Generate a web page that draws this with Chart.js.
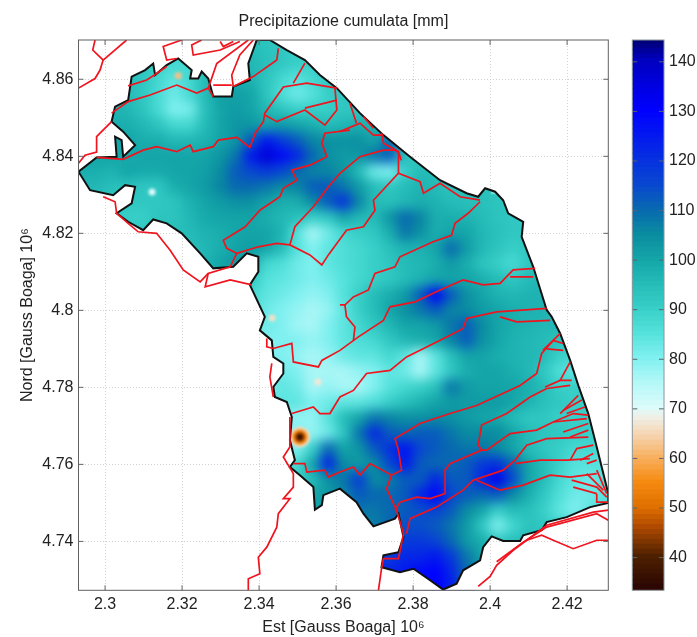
<!DOCTYPE html>
<html>
<head>
<meta charset="utf-8">
<title>Precipitazione cumulata</title>
<script src="https://cdn.jsdelivr.net/npm/chart.js@4/dist/chart.umd.min.js"></script>
<style>
  body { margin: 0; background: #fff; }
  #wrap { position: relative; width: 697px; height: 637px; }
  #map { position: absolute; left: 0; top: 0; }
  #bar { position: absolute; left: 620px; top: 0; }
</style>
</head>
<body>
<div id="wrap">
  <canvas id="map" width="697" height="637"></canvas>
  <canvas id="bar" width="77" height="637"></canvas>
</div>
<script>
// all map coordinates are Gauss Boaga km
const xTicks = [2300, 2320, 2340, 2360, 2380, 2400, 2420];
const xTickLabels = ['2.3', '2.32', '2.34', '2.36', '2.38', '2.4', '2.42'];
const yTicks = [4740, 4760, 4780, 4800, 4820, 4840, 4860];
const yTickLabels = ['4.74', '4.76', '4.78', '4.8', '4.82', '4.84', '4.86'];
const barTicks = [40, 50, 60, 70, 80, 90, 100, 110, 120, 130, 140];

// rain field, cell centres
const cellX = [2294, 2298, 2302, 2306, 2310, 2314, 2318, 2322, 2326, 2330, 2334, 2338, 2342, 2346, 2350, 2354, 2358, 2362, 2366, 2370, 2374, 2378, 2382, 2386, 2390, 2394, 2398, 2402, 2406, 2410, 2414, 2418, 2422, 2426, 2430];
const cellY = [4868, 4864, 4860, 4856, 4852, 4848, 4844, 4840, 4836, 4832, 4828, 4824, 4820, 4816, 4812, 4808, 4804, 4800, 4796, 4792, 4788, 4784, 4780, 4776, 4772, 4768, 4764, 4760, 4756, 4752, 4748, 4744, 4740, 4736, 4732, 4728];
// first column of each row
const rainStart = [10, 3, 2, 1, 1, 0, 0, 0, 0, 0, 1, 2, 3, 6, 8, 10, 11, 11, 12, 12, 12, 12, 12, 13, 13, 13, 13, 13, 14, 15, 15, 16, 18, 19, 19, 20];
const rainRows = [
  [95,95,93,92,90,92,92,92],
  [95,93,90,88,88,92,95,96,96,94,92,90,90,92,92,92],
  [95,95,92,88,84,88,95,100,98,97,93,88,85,88,92,92,92,93],
  [97,96,95,92,87,82,87,95,101,101,100,93,86,82,85,90,92,93,95,95],
  [97,97,96,93,87,80,81,94,100,102,100,96,93,90,90,90,92,92,93,94,95],
  [100,100,98,98,96,93,88,88,95,100,103,103,100,102,100,98,95,96,98,97,95,96,96],
  [100,100,100,100,98,98,96,96,97,100,103,112,125,118,112,106,104,104,104,100,110,96,95,95],
  [100,100,100,99,100,100,100,100,100,103,108,125,136,128,122,110,104,102,103,108,112,94,92,95,96],
  [98,98,97,100,99,99,100,100,101,105,112,115,118,115,110,106,106,103,95,82,80,90,95,95,95,95],
  [96,96,94,94,92,92,98,100,102,106,110,110,108,105,106,112,112,108,102,95,92,95,97,95,93,94,94],
  [93,93,92,92,92,93,97,100,102,104,104,100,98,98,105,112,120,106,95,94,96,98,97,95,94,94,93,93],
  [92,90,90,93,93,96,99,100,100,100,98,96,94,90,92,100,96,95,103,110,106,98,98,97,95,93,92,92],
  [92,92,93,94,95,97,98,100,100,100,97,85,76,82,88,90,92,98,108,104,98,100,100,96,94,92,92],
  [94,94,96,98,100,102,100,95,85,80,84,86,88,90,94,97,97,100,110,102,96,93,90,92],
  [97,100,103,100,88,86,82,80,84,86,88,90,92,95,96,98,102,98,93,90,87,92,94],
  [95,92,85,84,82,80,82,85,88,90,92,95,97,100,100,100,98,95,92,95,97,97],
  [88,84,82,80,78,80,85,90,95,98,102,112,130,112,104,100,97,96,97,97,96],
  [88,82,80,78,76,78,84,90,95,100,104,108,112,106,105,102,100,98,97,97,95],
  [82,80,77,76,80,84,88,92,96,100,100,102,108,112,105,100,98,97,96,96,94],
  [80,80,80,78,80,84,86,88,92,96,98,100,106,112,104,100,97,96,95,93,92],
  [80,80,78,76,78,82,84,84,88,84,76,84,94,100,100,98,97,96,95,90,88],
  [80,82,80,76,76,76,78,80,84,82,76,84,92,98,100,100,98,96,92,86,84],
  [80,84,82,76,78,76,76,80,85,88,90,94,108,102,100,100,100,98,95,90,90,92],
  [84,84,80,82,84,84,86,90,94,97,100,102,102,102,102,100,97,94,92,90,90],
  [80,78,78,85,95,100,108,106,104,104,105,104,102,100,99,95,92,92,90,90,90],
  [80,80,78,82,92,108,122,112,110,112,112,108,105,105,105,100,95,93,92,90,90],
  [80,80,90,110,100,103,112,120,126,115,112,110,108,108,105,100,95,92,90,88,88],
  [85,88,100,124,105,102,105,115,125,112,110,110,112,118,120,110,100,95,90,85,85,85],
  [90,95,104,108,118,105,107,112,112,122,112,112,122,132,115,100,95,88,84,82,86],
  [100,102,106,112,110,110,112,122,130,115,112,110,112,105,98,92,86,82,82,85],
  [100,102,104,108,108,110,112,114,116,112,105,100,90,95,94,90,84,80,84,88],
  [103,104,105,107,110,114,114,112,108,102,92,80,88,93,92,90,88,90],
  [105,108,112,118,118,116,110,102,98,92,94,96,96,96],
  [118,118,122,122,125,118,108,100,100,100],
  [122,122,125,128,130,122,110,105],
  [120,126,128,130,124,110]
];

// the dry gauge on the western border
const dryX = [2350.6, 2350.6, 2350.6, 2350.6, 2350.6, 2350.6];
const dryY = [4767.1, 4767.1, 4767.1, 4767.1, 4767.1, 4767.1];
const dryRain = [66, 58, 50, 44, 38, 34];

// single gauges, smaller than a cell
const spotX = [2312.2, 2319, 2343.4, 2355.3];
const spotY = [4830.7, 4860.9, 4798, 4781.4];
const spotRain = [70, 62, 66, 67];

const coast = [
  [2342.8,4870.2],[2347.2,4867.6],[2351.9,4865],[2355.8,4861.1],[2360.2,4857.7],[2366.2,4851.2],[2372.3,4845.5],[2379.2,4839.9],
  [2387,4833.8],[2393.9,4830.4],[2396.9,4829.5],[2398.7,4831.7],[2401.3,4830.8],[2403.4,4828.6],[2404.7,4825.2],[2408.6,4823],
  [2408.2,4819.1],[2411.2,4811.3],[2414.7,4800.1],[2416,4798.3],[2418.2,4794],[2420.8,4787],[2422.9,4780.5],[2425.5,4773.2],
  [2427.7,4764.5],[2430.7,4752.4],[2430.7,4750],[2426,4748.9],[2419.9,4746.3],[2414.7,4745],[2413.4,4742.9],[2408.6,4741.6],
  [2407.8,4740.1],[2403.4,4740.1],[2400.4,4741.3],[2398.2,4738.5],[2397.4,4735.1],[2393,4732.5],[2391.3,4729],[2387.8,4727.5],
  [2384.4,4729.9],[2380.1,4732.9],[2376.6,4732],[2371.8,4733.3],[2372.3,4736.4],[2376.2,4737.2],[2377.5,4741.1],[2376.2,4747.2],
  [2375.3,4745.9],[2369.7,4743.9],[2367.1,4747.2],[2365.3,4750.2],[2361,4753.7],[2356.7,4752],[2356.3,4749.4],[2354.5,4748.2],
  [2354.1,4754.1],[2350.6,4757.2],[2348,4759.3],[2349.3,4761.1],[2348,4766.3],[2348.5,4772.3],[2347.2,4776.2],[2344.1,4777.5],
  [2343.7,4780.1],[2346.3,4783.6],[2346.3,4786.2],[2343.7,4787.9],[2343.3,4792.2],[2340.2,4794.8],[2341.5,4798.3],[2337.6,4806.6],
  [2339.8,4810],[2339.8,4813.9],[2336.8,4814.8],[2333.3,4811.3],[2328.1,4810.9],[2324.7,4814.8],[2319.9,4820],[2316,4822.6],
  [2312.5,4823.6],[2309.9,4820.8],[2306,4823],[2303,4825.2],[2306.9,4827.8],[2307.8,4832.1],[2305.2,4832.5],[2302.1,4829.9],
  [2296.1,4831.2],[2293.1,4836],[2297.8,4839.7],[2303,4839.9],[2302.6,4845.1],[2304.3,4844.2],[2304.7,4839.9],[2307.8,4842.9],
  [2304.7,4846.4],[2301.7,4849],[2302.6,4852.9],[2306,4854.6],[2306.9,4860.7],[2310.4,4862.4],[2312.5,4864.1],[2313,4861.1],
  [2316,4863.7],[2319,4865.4],[2322.5,4862.4],[2322.1,4860.2],[2324.2,4860.2],[2325.1,4862],[2326.8,4860.2],[2328.1,4855.5],
  [2332.9,4855.5],[2333.3,4858.1],[2337.6,4859.8],[2337.2,4864.1],[2339.4,4870.2],[2342.8,4870.2]
];

const basins = [
  [[2297.4,4870.2],[2296.8,4867.6],[2299.5,4865],[2298.7,4862.4],[2297.4,4860.2],[2293.1,4857.7]],
  [[2305.6,4870.2],[2299.5,4865]],
  [[2293.1,4838.2],[2294.8,4840.3],[2297.8,4841.1],[2297.8,4845.1],[2298.7,4846],[2301.7,4849]],
  [[2301.7,4851.2],[2306,4854.2],[2311.7,4855.9],[2318.6,4858.5],[2323.8,4856.4],[2326.8,4857.7],[2328.1,4855.5]],
  [[2306,4858.3],[2310.8,4859.8],[2313.4,4861.5],[2316,4863.3]],
  [[2297.8,4839.7],[2304.7,4839.2],[2309.9,4841.6],[2313.4,4842.5],[2318.6,4841.2],[2322.1,4842.9],[2322.9,4841.2],[2328.1,4842.5],[2329.4,4844.2],[2334.2,4844.9],[2337.6,4842.3],[2339,4846],[2341.1,4849],[2341.5,4851.2],[2346.3,4858],[2352.4,4859],[2360.2,4857.7]],
  [[2341.5,4850.7],[2344.6,4849],[2351.9,4852],[2357.1,4848.1],[2360.2,4852],[2359.7,4857.7]],
  [[2351.9,4852.5],[2360.2,4854.6]],
  [[2345,4868],[2344.6,4865],[2338.5,4860.7],[2333.3,4858.1]],
  [[2351.9,4864.2],[2348.9,4859]],
  [[2338.5,4870.2],[2335,4866.3],[2332.9,4861.1],[2333.3,4858.1]],
  [[2337.2,4870.2],[2329,4864.1],[2326.8,4857.7]],
  [[2335,4869.8],[2329.9,4867.6],[2322.9,4866.3],[2322.5,4868.9],[2325.1,4870.2]],
  [[2319.9,4870.2],[2315.1,4868.5],[2316,4865],[2318.6,4865.4]],
  [[2328.1,4858.5],[2332.9,4858.5]],
  [[2329.9,4869.8],[2330.7,4868.5],[2333.3,4869.8]],
  [[2361,4846.4],[2366.2,4848.6],[2369.7,4845.5],[2372.3,4845.5]],
  [[2363.6,4846.8],[2357.1,4846],[2356.3,4843.4],[2357.6,4839.9],[2353.2,4837.7],[2348.5,4836.4],[2349.8,4833.8],[2346.3,4831.7],[2345.4,4829.5],[2340.2,4826],[2336.4,4821.7],[2330.7,4818.2],[2331.6,4816.1],[2334.2,4814.8],[2332.5,4811.3],[2326.8,4809.6],[2326,4806.1],[2332.5,4807.9],[2338.1,4806.6]],
  [[2326.8,4809.6],[2324.7,4807.4],[2320.3,4810.5],[2316.9,4815.6],[2313.4,4820],[2308.6,4820.4],[2306,4822.6],[2303,4825.2],[2302.6,4828.2],[2299.5,4829.5]],
  [[2397.4,4828.6],[2392.2,4829.5],[2387,4833],[2382.7,4830.4],[2381.8,4833.4],[2376.2,4835.6],[2369.7,4828.6],[2370.1,4826],[2367.1,4821.7],[2362.7,4820.8],[2358,4814.4],[2356.3,4811.8],[2353.2,4814.4],[2348,4817],[2344.6,4817.4],[2339.8,4816.5],[2334.2,4814.8]],
  [[2348,4817],[2349.3,4821.7],[2354.1,4826.9],[2358,4832.1],[2361,4835.6],[2366.2,4839.9],[2372.3,4841.6],[2375.3,4841.6],[2376.2,4840.8],[2376.2,4835.6]],
  [[2371.8,4846],[2372.3,4843.4],[2376.2,4841.2],[2376.9,4839]],
  [[2363.6,4853.8],[2365.3,4848.6]],
  [[2367.1,4850.3],[2369.7,4847.3]],
  [[2397.4,4828.2],[2394.3,4825.2],[2390.9,4822.6],[2390,4819.5],[2385.2,4817.8],[2376.6,4813.9],[2375.3,4811.3],[2370.1,4809.6],[2368.4,4805.3],[2364.5,4803.5],[2362.3,4801.4],[2362.7,4798.3],[2364.9,4795.7],[2364.5,4792.2]],
  [[2361,4801.4],[2362.3,4801.4]],
  [[2342,4792.7],[2342,4790.5],[2343.7,4790.1],[2348.5,4791.4],[2348.9,4786.6],[2355.4,4785.3],[2356.3,4787],[2361,4789.6],[2365.8,4793.1],[2372.3,4797.4],[2374,4800.9],[2380.5,4802.2],[2387,4805.3],[2393,4807.9],[2398.2,4806.6],[2402.6,4807],[2406,4810.5],[2411.7,4810.9]],
  [[2405.2,4808.7],[2411.2,4808.7]],
  [[2343.3,4786.2],[2342.8,4782.7],[2343.7,4777.5]],
  [[2348.5,4773.2],[2354.1,4774.9],[2355.8,4773.2],[2358.4,4773.2],[2361,4777.5],[2364.5,4779.2],[2367.9,4783.6],[2374,4784.4],[2378.3,4787.9],[2383.5,4790.5],[2388.7,4793.1],[2393,4795.3],[2393.9,4797.9],[2401.7,4799.6],[2414.7,4800.5]],
  [[2402.6,4798.3],[2406.9,4797],[2415.6,4797.4]],
  [[2419,4791.4],[2416.4,4792.2],[2413.4,4788.8],[2412.1,4783.6],[2407.8,4780.5],[2396.5,4775.3],[2389.6,4773.2],[2381.8,4770.6],[2375.3,4766.7],[2376.2,4763.7],[2377,4758.5],[2374.4,4757.2],[2368.8,4760.2],[2366.2,4757.2],[2364.5,4759.3],[2361,4758],[2358,4756.7],[2357.1,4758.5],[2352.4,4758],[2351.9,4760.2],[2348.9,4760.2]],
  [[2374.4,4757.2],[2373.1,4753.7],[2375.7,4748.1],[2377.5,4742],[2376.2,4735.5],[2372.3,4735.5],[2371.8,4732.9],[2371,4727.3]],
  [[2348,4772.3],[2348,4764.5],[2346.3,4761.9],[2348.9,4757.6],[2348.9,4754.1],[2346.3,4751.1],[2348,4751.1],[2345,4747.2],[2344.6,4743.7],[2342,4738.5],[2339.8,4735.9],[2340.2,4731.6],[2337.2,4730.3],[2337.2,4727.3]],
  [[2420.8,4780.5],[2414.7,4779.7],[2410.4,4777.5],[2404.3,4773.2],[2397.8,4770.2],[2396.9,4765],[2397.8,4763.7],[2389.6,4760.2],[2388.3,4758.5],[2388.3,4752.4],[2384.4,4751.1],[2380.9,4751.5],[2376.6,4750.2],[2375.3,4748.1]],
  [[2425.1,4771.9],[2416.4,4771],[2412.1,4768.9],[2405.2,4768],[2399.1,4763.7],[2397.8,4763.7]],
  [[2425.5,4767.1],[2414.7,4766.7],[2409.5,4765],[2406.5,4761.1],[2403.4,4758.5],[2395.6,4755.9],[2393,4753.3],[2386.1,4748.9],[2379.2,4745.9],[2378.3,4742]],
  [[2425.9,4761.5],[2419.9,4761.1],[2413,4761.1],[2406.5,4760.2]],
  [[2427.7,4757.6],[2420.8,4756.7],[2415.6,4757.2],[2408.6,4754.6],[2402.6,4753.3],[2396.5,4755.9]],
  [[2413.7,4789.6],[2417.3,4793.1],[2418.2,4794]],
  [[2414.7,4790],[2419,4789.6]],
  [[2418.2,4781.8],[2420.8,4786.6]],
  [[2414.3,4780.1],[2418.2,4781.8],[2421.2,4781.8]],
  [[2418.2,4773.2],[2422.9,4777.9]],
  [[2419,4774],[2423.8,4776.7]],
  [[2419.9,4773.2],[2424.6,4774.9]],
  [[2416.4,4771],[2421.6,4773.2],[2425.5,4772.8]],
  [[2419,4768.4],[2425.5,4770.6]],
  [[2420.8,4767.1],[2425.5,4768.9]],
  [[2420.8,4761.1],[2422.5,4764.1],[2426.8,4765]],
  [[2423.4,4761.1],[2426.8,4762.8]],
  [[2425.1,4760.2],[2427.7,4761.1]],
  [[2421.2,4755.9],[2427.7,4754.1],[2430.3,4751.5]],
  [[2421.6,4754.1],[2427.7,4752.4]],
  [[2427.7,4758.5],[2430.3,4752.4]],
  [[2425.1,4757.6],[2429.4,4753.3]],
  [[2427.7,4752.4],[2427.7,4750.2],[2430.7,4750.2]],
  [[2430.7,4748.1],[2426.8,4747.6],[2414.7,4744.2],[2409.5,4740.3],[2406,4737.7],[2401.7,4733.8],[2400,4730.9],[2396.9,4728.3]],
  [[2430.7,4745.5],[2427.7,4747.2],[2414.7,4743.7],[2408.6,4739.8],[2401.7,4734.7]],
  [[2430.7,4740.3],[2427.7,4740.3],[2421.6,4738.1],[2416.4,4740.3],[2413.4,4741.6],[2409.5,4740.3]]
];

// colour map
const mapValues = [33.4, 40, 46, 50, 55, 60, 64, 68, 70, 75, 80, 85, 90, 95, 100, 105, 110, 115, 120, 130, 140, 144.4];
const mapColors = ['#2a0503', '#4d2000', '#b04a00', '#e07000', '#f58a10', '#f8b060', '#f5d0a8', '#f0efe5', '#dcfbfb', '#b5f8f8', '#80f0f0', '#55e2dc', '#38cfc8', '#25bcb8', '#14a5a8', '#0a8ca0', '#0868b0', '#0848d0', '#0630e0', '#0000ff', '#0000c0', '#000070'];
const barLevels = [34, 35, 36, 37, 38, 39, 40, 41, 42, 43, 44, 45, 46, 47, 48, 49, 50, 51, 52, 53, 54, 55, 56, 57, 58, 59, 60, 61, 62, 63, 64, 65, 66, 67, 68, 69, 70, 71, 72, 73, 74, 75, 76, 77, 78, 79, 80, 81, 82, 83, 84, 85, 86, 87, 88, 89, 90, 91, 92, 93, 94, 95, 96, 97, 98, 99, 100, 101, 102, 103, 104, 105, 106, 107, 108, 109, 110, 111, 112, 113, 114, 115, 116, 117, 118, 119, 120, 121, 122, 123, 124, 125, 126, 127, 128, 129, 130, 131, 132, 133, 134, 135, 136, 137, 138, 139, 140, 141, 142, 143, 144];

function rainColor(v) {
  let i = 0;
  while (i < mapValues.length - 2 && v > mapValues[i + 1]) i++;
  const t = Math.min(1, Math.max(0, (v - mapValues[i]) / (mapValues[i + 1] - mapValues[i])));
  const a = mapColors[i], b = mapColors[i + 1];
  const c = [1, 3, 5].map(k => {
    const p = parseInt(a.substr(k, 2), 16), q = parseInt(b.substr(k, 2), 16);
    return Math.round(p + (q - p) * t);
  });
  return 'rgb(' + c.join(',') + ')';
}

const textFont = { family: '"Liberation Sans", Arial, sans-serif', size: 16 };
const textColor = '#222';

const cells = [];
rainRows.forEach((row, j) => {
  row.forEach((v, i) => cells.push({ x: cellX[rainStart[j] + i], y: cellY[j], v: v }));
});

function tracePolygon(chart) {
  const ctx = chart.ctx, sx = chart.scales.x, sy = chart.scales.y;
  ctx.beginPath();
  coast.forEach((p, i) => {
    const px = sx.getPixelForValue(p[0]), py = sy.getPixelForValue(p[1]);
    if (i === 0) ctx.moveTo(px, py); else ctx.lineTo(px, py);
  });
  ctx.closePath();
}

function copyCanvas(canvas) {
  const c = document.createElement('canvas');
  c.width = canvas.width;
  c.height = canvas.height;
  c.getContext('2d').drawImage(canvas, 0, 0);
  return c;
}

// rain cells are drawn by the chart, then smoothed and cut to the region outline
let underLayer = null;
const rainLayer = {
  id: 'rainLayer',
  beforeDatasetDraw(chart, args) {
    const ctx = chart.ctx, label = args.meta.label;
    if (label === 'rain') underLayer = copyCanvas(chart.canvas);
    if (label === 'dry' || label === 'spots') {
      ctx.save();
      tracePolygon(chart);
      ctx.clip();
      ctx.filter = 'blur(1.5px)';
    }
  },
  afterDatasetDraw(chart, args) {
    const ctx = chart.ctx, a = chart.chartArea, label = args.meta.label;
    if (label === 'dry' || label === 'spots') ctx.restore();
    if (label !== 'rain') return;
    const cellLayer = copyCanvas(chart.canvas);
    ctx.save();
    ctx.beginPath();
    ctx.rect(a.left, a.top, a.width, a.height);
    ctx.clip();
    ctx.clearRect(a.left, a.top, a.width, a.height);
    ctx.drawImage(underLayer, 0, 0);
    ctx.restore();
    ctx.save();
    tracePolygon(chart);
    ctx.clip();
    ctx.drawImage(cellLayer, 0, 0);
    ctx.filter = 'blur(6px)';
    ctx.drawImage(cellLayer, 0, 0);
    ctx.restore();
  }
};

// inward ticks and frame
const frameTicks = {
  id: 'frameTicks',
  afterDraw(chart) {
    const ctx = chart.ctx, a = chart.chartArea;
    const isBar = chart.canvas.id === 'bar';
    ctx.save();
    ctx.strokeStyle = isBar ? '#5a6468' : '#666';
    ctx.lineWidth = 1;
    Object.values(chart.scales).forEach(s => {
      if (s.options.display === false) return;
      s.ticks.forEach(t => {
        const p = s.getPixelForValue(t.value);
        ctx.beginPath();
        if (s.isHorizontal()) {
          ctx.moveTo(p, a.bottom); ctx.lineTo(p, a.bottom - 5);
          ctx.moveTo(p, a.top); ctx.lineTo(p, a.top + 5);
        } else {
          ctx.moveTo(a.left, p); ctx.lineTo(a.left + 5, p);
          ctx.moveTo(a.right, p); ctx.lineTo(a.right - 5, p);
        }
        ctx.stroke();
      });
    });
    ctx.strokeStyle = isBar ? '#8a969c' : '#606060';
    ctx.strokeRect(a.left, a.top, a.width, a.height);
    ctx.restore();
  }
};

const mapDatasets = [];
basins.forEach((line, i) => {
  mapDatasets.push({
    label: 'basin ' + i,
    data: line.map(p => ({ x: p[0], y: p[1] })),
    showLine: true,
    borderColor: '#f0141e',
    borderWidth: 1.7,
    pointRadius: 0,
    order: 1
  });
});
mapDatasets.push({
  label: 'coast',
  data: coast.map(p => ({ x: p[0], y: p[1] })),
  showLine: true,
  borderColor: '#111',
  borderWidth: 2,
  pointRadius: 0,
  order: 2
});
mapDatasets.push({
  label: 'dry',
  data: dryRain.map((v, i) => ({ x: dryX[i], y: dryY[i], v: v })),
  showLine: false,
  pointStyle: 'circle',
  pointRadius: ctx => (ctx.raw.v - 28) * 0.27,
  backgroundColor: dryRain.map(rainColor),
  borderWidth: 0,
  order: 3
});
mapDatasets.push({
  label: 'spots',
  data: spotRain.map((v, i) => ({ x: spotX[i], y: spotY[i], v: v })),
  showLine: false,
  pointStyle: 'circle',
  pointRadius: 3.5,
  backgroundColor: spotRain.map(rainColor),
  borderWidth: 0,
  order: 3
});
mapDatasets.push({
  label: 'rain',
  data: cells,
  showLine: false,
  pointStyle: 'rect',
  pointRadius: 11.6,
  backgroundColor: cells.map(c => rainColor(c.v)),
  borderWidth: 0,
  order: 4
});

new Chart(document.getElementById('map').getContext('2d'), {
  type: 'scatter',
  data: { datasets: mapDatasets },
  plugins: [rainLayer, frameTicks],
  options: {
    responsive: false,
    animation: false,
    devicePixelRatio: 1,
    layout: { padding: { top: 0, right: 88.7, bottom: 0, left: 0 } },
    plugins: {
      legend: { display: false },
      tooltip: { enabled: false },
      title: {
        display: true,
        text: 'Precipitazione cumulata [mm]',
        fullSize: false,
        color: textColor,
        font: { family: textFont.family, size: 16, weight: 'normal' },
        padding: { top: 11.5, bottom: 9.3 }
      }
    },
    scales: {
      x: {
        type: 'linear',
        min: 2293.1,
        max: 2430.7,
        afterBuildTicks: s => { s.ticks = xTicks.map(v => ({ value: v })); },
        afterFit: s => { s.height = 46.7; },
        ticks: {
          color: textColor,
          font: textFont,
          padding: 5,
          maxRotation: 0,
          callback: v => xTickLabels[xTicks.indexOf(v)]
        },
        grid: { color: '#d2d2d2', drawTicks: false },
        border: { display: false, dash: [1, 2] },
        title: { display: true, text: 'Est [Gauss Boaga] 10⁶', color: textColor, font: { family: textFont.family, size: 16 }, padding: 0 }
      },
      y: {
        type: 'linear',
        min: 4727.3,
        max: 4870.2,
        afterBuildTicks: s => { s.ticks = yTicks.map(v => ({ value: v })); },
        afterFit: s => { s.width = 78.5; },
        ticks: {
          color: textColor,
          font: textFont,
          padding: 5,
          callback: v => yTickLabels[yTicks.indexOf(v)]
        },
        grid: { color: '#d2d2d2', drawTicks: false },
        border: { display: false, dash: [1, 2] },
        title: { display: true, text: 'Nord [Gauss Boaga] 10⁶', color: textColor, font: { family: textFont.family, size: 16 }, padding: { top: 18, bottom: 0 } }
      }
    }
  }
});

// colour bar: one floating bar per level
new Chart(document.getElementById('bar').getContext('2d'), {
  type: 'bar',
  data: {
    labels: [''],
    datasets: barLevels.map(v => ({
      data: [[v - 0.7, v + 0.7]],
      backgroundColor: rainColor(v),
      borderWidth: 0,
      grouped: false,
      barPercentage: 1,
      categoryPercentage: 1
    }))
  },
  plugins: [frameTicks],
  options: {
    responsive: false,
    animation: false,
    devicePixelRatio: 1,
    layout: { padding: { top: 40, right: 0, bottom: 46.7, left: 12.3 } },
    plugins: { legend: { display: false }, tooltip: { enabled: false } },
    scales: {
      x: { display: false, stacked: false },
      y: {
        position: 'right',
        min: 33.4,
        max: 144.4,
        afterBuildTicks: s => { s.ticks = barTicks.map(v => ({ value: v })); },
        afterFit: s => { s.width = 33; },
        ticks: { color: textColor, font: textFont, padding: 5 },
        grid: { display: false, drawTicks: false },
        border: { display: false }
      }
    }
  }
});
</script>
</body>
</html>
